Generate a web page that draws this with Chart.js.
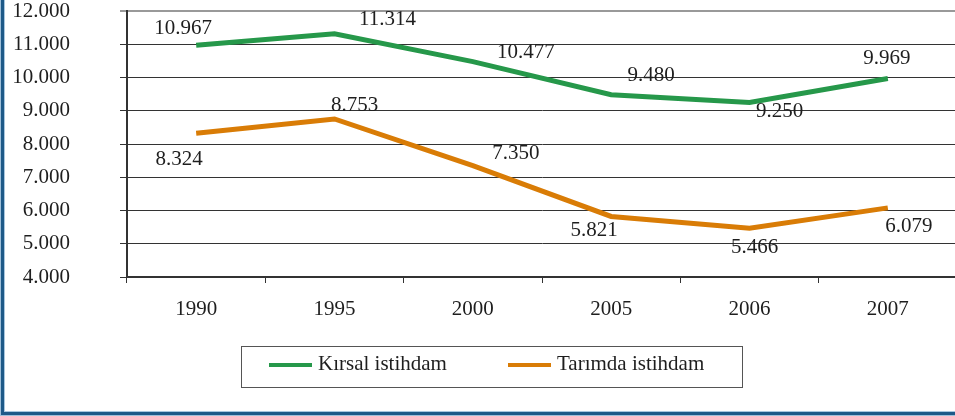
<!DOCTYPE html>
<html>
<head>
<meta charset="utf-8">
<script src="https://cdn.jsdelivr.net/npm/chart.js@4.4.1/dist/chart.umd.min.js"></script>
<style>
  html, body { margin: 0; padding: 0; background: #ffffff; }
  body { width: 955px; height: 416px; overflow: hidden; position: relative; }
  #wrap { position: absolute; left: 0; top: 0; width: 960px; height: 416px; }
  #frame {
    position: absolute; left: 1px; top: -20px; width: 1100px; height: 432px;
    border-left: 3px solid #1e5a88; border-bottom: 3px solid #1e5a88;
    box-shadow: inset 1px -1px 0 #a8c7df, -1px 1px 0 #9fc0da;
    pointer-events: none;
  }
</style>
</head>
<body>
<div id="wrap"><canvas id="c" width="960" height="416"></canvas></div>
<div id="frame"></div>
<script>
const categories = ['1990', '1995', '2000', '2005', '2006', '2007'];
const kirsalIstihdam = [10967, 11314, 10477, 9480, 9250, 9969];
const tarimdaIstihdam = [8324, 8753, 7350, 5821, 5466, 6079];
const seriesNames = ['Kırsal istihdam', 'Tarımda istihdam'];
const yTicks = [4000, 5000, 6000, 7000, 8000, 9000, 10000, 11000, 12000];

const FONT = '"Liberation Serif", "Times New Roman", serif';
const TEXT = '#1e1e1e';
const FS = 21;

function fmt(v) {
  const s = String(Math.round(v));
  return s.replace(/\B(?=(\d{3})+(?!\d))/g, '.');
}

// label offsets (px) relative to each point
const labelOffsets = [
  [[-13,-17],[53,-14],[53,-9],[40,-19],[30,9],[-1,-20]],
  [[-17,26],[20,-13],[43,-12],[-17,14],[5,19],[21,19]]
];

const dataLabels = {
  id: 'dataLabels',
  afterDatasetsDraw(chart) {
    const ctx = chart.ctx;
    ctx.save();
    ctx.font = FS + 'px ' + FONT;
    ctx.fillStyle = TEXT;
    ctx.textAlign = 'center';
    ctx.textBaseline = 'middle';
    chart.data.datasets.forEach((ds, di) => {
      const meta = chart.getDatasetMeta(di);
      meta.data.forEach((pt, i) => {
        const off = labelOffsets[di][i];
        ctx.fillText(fmt(ds.data[i]), pt.x + off[0], pt.y + off[1]);
      });
    });
    ctx.restore();
  }
};

const boxLegend = {
  id: 'boxLegend',
  afterDraw(chart) {
    const ctx = chart.ctx;
    ctx.save();
    ctx.strokeStyle = '#555555';
    ctx.lineWidth = 1;
    ctx.strokeRect(241.5, 346.5, 501, 41);
    const items = [
      { x1: 269, x2: 312, tx: 318 },
      { x1: 508, x2: 551, tx: 557 }
    ];
    ctx.font = FS + 'px ' + FONT;
    ctx.textBaseline = 'middle';
    ctx.textAlign = 'left';
    chart.data.datasets.forEach((ds, i) => {
      const it = items[i];
      ctx.strokeStyle = ds.borderColor;
      ctx.lineWidth = 4;
      ctx.beginPath();
      ctx.moveTo(it.x1, 365);
      ctx.lineTo(it.x2, 365);
      ctx.stroke();
      ctx.fillStyle = TEXT;
      ctx.fillText(ds.label, it.tx, 364);
    });
    ctx.restore();
  }
};

new Chart(document.getElementById('c'), {
  type: 'line',
  data: {
    labels: categories,
    datasets: [
      { label: seriesNames[0], data: kirsalIstihdam, borderColor: '#26984a', backgroundColor: '#26984a',
        borderWidth: 5, pointRadius: 0, tension: 0, fill: false },
      { label: seriesNames[1], data: tarimdaIstihdam, borderColor: '#d97c06', backgroundColor: '#d97c06',
        borderWidth: 5, pointRadius: 0, tension: 0, fill: false }
    ]
  },
  options: {
    responsive: false,
    animation: false,
    layout: { padding: { top: 11, right: 3, left: 0, bottom: 0 } },
    plugins: { legend: { display: false }, tooltip: { enabled: false } },
    scales: {
      x: {
        type: 'category',
        offset: true,
        border: { display: true, color: '#333333', width: 2 },
        grid: { offset: true, drawOnChartArea: false, drawTicks: true, tickLength: 6, color: '#333333', lineWidth: 1 },
        ticks: { color: TEXT, font: { family: FONT, size: FS }, padding: 14, maxRotation: 0 },
        afterFit(scale) { scale.height = 139; }
      },
      y: {
        min: 4000, max: 12000,
        afterBuildTicks(scale) { scale.ticks = yTicks.map(v => ({ value: v })); },
        border: { display: true, color: '#333333', width: 2 },
        grid: {
          drawTicks: true, tickLength: 7,
          color: (c) => (c.tick && c.tick.value === 12000) ? '#999999' : '#333333',
          lineWidth: (c) => (c.tick && c.tick.value === 12000) ? 2 : 1
        },
        ticks: { color: TEXT, font: { family: FONT, size: FS, lineHeight: 1 }, padding: 50,
                 callback: (v) => fmt(v) },
        afterFit(scale) { scale.width = 127; scale.paddingTop = 0; scale.paddingBottom = 0; }
      }
    }
  },
  plugins: [dataLabels, boxLegend]
});
</script>
</body>
</html>
